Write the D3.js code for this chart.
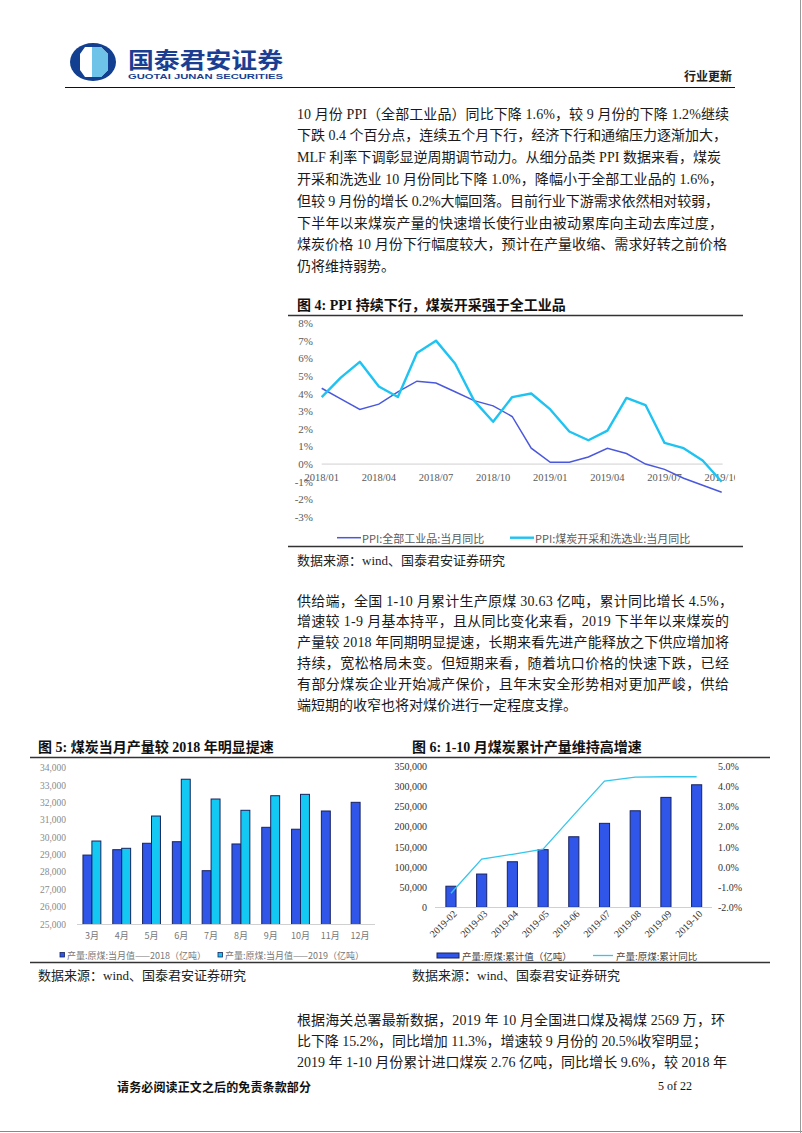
<!DOCTYPE html>
<html><head><meta charset="utf-8">
<script src="https://cdn.jsdelivr.net/npm/d3@7"></script>
<style>body{margin:0;background:#fff}svg{display:block}</style>
</head><body><svg id="c" width="802" height="1133"></svg>
<script>
// ---------- DATA ----------
const ppiMonths = ["2018/01","2018/02","2018/03","2018/04","2018/05","2018/06","2018/07","2018/08","2018/09","2018/10","2018/11","2018/12","2019/01","2019/02","2019/03","2019/04","2019/05","2019/06","2019/07","2019/08","2019/09","2019/10"];
const ppiAll  = [4.3,3.7,3.1,3.4,4.1,4.7,4.6,4.1,3.6,3.3,2.7,0.9,0.1,0.1,0.4,0.9,0.6,0.0,-0.3,-0.8,-1.2,-1.6];
const ppiCoal = [3.8,4.9,5.8,4.4,3.8,6.3,7.0,5.7,3.6,2.4,3.8,4.0,3.1,1.85,1.35,1.9,3.75,3.35,1.2,0.9,0.2,-1.0];
const ppiTickLabels = ["2018/01","2018/04","2018/07","2018/10","2019/01","2019/04","2019/07","2019/10"];
const ppiYTicks = [-3,-2,-1,0,1,2,3,4,5,6,7,8];
const ppiLegend = ["PPI:全部工业品:当月同比","PPI:煤炭开采和洗选业:当月同比"];

const prodMonths = ["3月","4月","5月","6月","7月","8月","9月","10月","11月","12月"];
const prod2018 = [29000,29310,29680,29770,28100,29640,30600,30490,31540,32040];
const prod2019 = [29810,29390,31250,33370,32230,31580,32420,32500,null,null];
const prodYTicks = [25000,26000,27000,28000,29000,30000,31000,32000,33000,34000];
const prodLegend = ["产量:原煤:当月值——2018（亿吨）","产量:原煤:当月值——2019（亿吨）"];

const cumMonths = ["2019-02","2019-03","2019-04","2019-05","2019-06","2019-07","2019-08","2019-09","2019-10"];
const cumValue = [52500,82800,113400,143500,175600,209000,240300,273600,305000];
const cumYoY = [-1.3,0.4,0.64,0.89,2.6,4.28,4.48,4.5,4.5];
const cumLeftTicks = [0,50000,100000,150000,200000,250000,300000,350000];
const cumRightTicks = [-2,-1,0,1,2,3,4,5];
const cumLegend = ["产量:原煤:累计值（亿吨）","产量:原煤:累计同比"];

const para1 = [
 "10 月份 PPI（全部工业品）同比下降 1.6%，较 9 月份的下降 1.2%继续",
 "下跌 0.4 个百分点，连续五个月下行，经济下行和通缩压力逐渐加大，",
 "MLF 利率下调彰显逆周期调节动力。从细分品类 PPI 数据来看，煤炭",
 "开采和洗选业 10 月份同比下降 1.0%，降幅小于全部工业品的 1.6%，",
 "但较 9 月份的增长 0.2%大幅回落。目前行业下游需求依然相对较弱，",
 "下半年以来煤炭产量的快速增长使行业由被动累库向主动去库过度，",
 "煤炭价格 10 月份下行幅度较大，预计在产量收缩、需求好转之前价格",
 "仍将维持弱势。"];
const para2 = [
 "供给端，全国 1-10 月累计生产原煤 30.63 亿吨，累计同比增长 4.5%，",
 "增速较 1-9 月基本持平，且从同比变化来看，2019 下半年以来煤炭的",
 "产量较 2018 年同期明显提速，长期来看先进产能释放之下供应增加将",
 "持续，宽松格局未变。但短期来看，随着坑口价格的快速下跌，已经",
 "有部分煤炭企业开始减产保价，且年末安全形势相对更加严峻，供给",
 "端短期的收窄也将对煤价进行一定程度支撑。"];
const para3 = [
 "根据海关总署最新数据，2019 年 10 月全国进口煤及褐煤 2569 万，环",
 "比下降 15.2%，同比增加 11.3%，增速较 9 月份的 20.5%收窄明显；",
 "2019 年 1-10 月份累计进口煤炭 2.76 亿吨，同比增长 9.6%，较 2018 年"];

// ---------- STYLE ----------
const SERIF = "'Liberation Serif','Noto Sans CJK SC',serif";
const CJK = "'Noto Sans CJK SC','Liberation Serif',sans-serif";
const DARK_BLUE_LINE = "#4a58dc", CYAN_LINE = "#1ec3f2";
const BAR_BLUE = "#2f56e8", BAR_CYAN = "#14c8f4", BAR_STROKE = "#18235e";

const svg = d3.select("#c");
svg.append("rect").attr("width",802).attr("height",1133).attr("fill","#fff");

// ---------- HEADER ----------
const logo = svg.append("g").attr("transform","translate(93,62)");
logo.append("ellipse").attr("rx",23).attr("ry",19).attr("fill","#123f8f");
const oct = [[-8,-15],[8,-15],[15,-8],[15,8],[8,15],[-8,15],[-13,8],[-13,-8]];
logo.append("polygon").attr("points",oct.map(p=>p.join(",")).join(" ")).attr("fill","#fff");
logo.append("polygon").attr("points","-1,-15 8,-15 15,-8 15,8 8,15 -1,15").attr("fill","#6ec3e8");
svg.append("text").attr("x",128).attr("y",57.5).attr("dominant-baseline","central")
  .attr("font-family",CJK).attr("font-weight","bold").attr("font-size",22).attr("fill","#1a3f92")
  .attr("textLength",155).attr("lengthAdjust","spacingAndGlyphs").text("国泰君安证券");
svg.append("text").attr("x",128).attr("y",76.5).attr("dominant-baseline","central")
  .attr("font-family","'Liberation Sans',sans-serif").attr("font-weight","bold").attr("font-size",8).attr("fill","#1a3f92")
  .attr("textLength",155).attr("lengthAdjust","spacingAndGlyphs").text("GUOTAI JUNAN SECURITIES");
svg.append("text").attr("x",732).attr("y",75).attr("text-anchor","end").attr("dominant-baseline","central")
  .attr("font-family",CJK).attr("font-weight","bold").attr("font-size",12).attr("fill","#222").text("行业更新");
svg.append("line").attr("x1",65).attr("x2",735).attr("y1",87.5).attr("y2",87.5).attr("stroke","#111").attr("stroke-width",1.2);

// ---------- PARAGRAPHS ----------
function para(lines, x, y0, dy, full) {
  lines.forEach((t,i)=>{
    const el = svg.append("text").attr("x",x).attr("y",y0+i*dy).attr("dominant-baseline","central")
      .attr("font-family",SERIF).attr("font-size",14).attr("fill","#1a1a1a").text(t);
    if (full[i]) el.attr("textLength",full[i]).attr("lengthAdjust","spacing");
  });
}
para(para1, 297, 114, 21.8, [432,430,424,426,422,426,430,0]);
para(para2, 297, 601, 20.8, [436,432,432,432,432,0]);
para(para3, 297, 1020, 21, [428,410,430]);

// ---------- CHART 4 ----------
function title(x,y,t){
  svg.append("text").attr("x",x).attr("y",y).attr("dominant-baseline","central")
   .attr("font-family",SERIF).attr("font-weight","bold").attr("font-size",14).attr("fill","#111").text(t);
}
function source(x,y){
  svg.append("text").attr("x",x).attr("y",y).attr("dominant-baseline","central")
   .attr("font-family",SERIF).attr("font-size",13).attr("fill","#222").text("数据来源：wind、国泰君安证券研究");
}
title(297,305,"图  4:  PPI 持续下行，煤炭开采强于全工业品");
svg.append("line").attr("x1",288).attr("x2",743).attr("y1",315.5).attr("y2",315.5).attr("stroke","#333").attr("stroke-width",1.5);
svg.append("line").attr("x1",288).attr("x2",743).attr("y1",546.5).attr("y2",546.5).attr("stroke","#333").attr("stroke-width",1.5);
source(297,560);

svg.append("clipPath").attr("id","clip4").append("rect").attr("x",280).attr("y",316).attr("width",455).attr("height",230);
const g4 = svg.append("g").attr("clip-path","url(#clip4)");
const x4 = d3.scalePoint().domain(ppiMonths).range([321.7,721.7]);
const y4 = d3.scaleLinear().domain([-3,8]).range([517,323]);
g4.append("line").attr("x1",x4(ppiMonths[0])).attr("x2",x4(ppiMonths[ppiMonths.length-1])+1)
  .attr("y1",y4(0)).attr("y2",y4(0)).attr("stroke","#d0d0d0").attr("stroke-width",1);
g4.selectAll(".yl").data(ppiYTicks).enter().append("text")
  .attr("x",313).attr("y",d=>y4(d)).attr("text-anchor","end").attr("dominant-baseline","central")
  .attr("font-family",SERIF).attr("font-size",11).attr("fill","#5a5a5a").text(d=>d+"%");
g4.selectAll(".xl").data(ppiTickLabels).enter().append("text")
  .attr("x",d=>x4(d)).attr("y",477).attr("text-anchor","middle").attr("dominant-baseline","central")
  .attr("font-family",SERIF).attr("font-size",10.5).attr("fill","#5a5a5a").text(d=>d);
const line4 = vals => d3.line().x((d,i)=>x4(ppiMonths[i])).y(d=>y4(d))(vals);
g4.append("path").attr("d",line4(ppiAll)).attr("fill","none").attr("stroke",DARK_BLUE_LINE).attr("stroke-width",1.5);
g4.append("path").attr("d",line4(ppiCoal)).attr("fill","none").attr("stroke",CYAN_LINE).attr("stroke-width",2.4).attr("stroke-linejoin","round");
// legend
[[337,DARK_BLUE_LINE,1.5,ppiLegend[0]],[510,CYAN_LINE,2.4,ppiLegend[1]]].forEach(([lx,c,w,t])=>{
  svg.append("line").attr("x1",lx).attr("x2",lx+24).attr("y1",537.7).attr("y2",537.7).attr("stroke",c).attr("stroke-width",w);
  svg.append("text").attr("x",lx+25).attr("y",538).attr("dominant-baseline","central")
   .attr("font-family",CJK).attr("font-size",11).attr("fill","#5a5a5a").text(t);
});

// ---------- CHART 5 ----------
title(38,747,"图  5:  煤炭当月产量较 2018 年明显提速");
title(412,747,"图  6:  1-10 月煤炭累计产量维持高增速");
svg.append("line").attr("x1",30).attr("x2",770).attr("y1",757.5).attr("y2",757.5).attr("stroke","#333").attr("stroke-width",1.5);
svg.append("line").attr("x1",30).attr("x2",770).attr("y1",962.5).attr("y2",962.5).attr("stroke","#333").attr("stroke-width",1.5);
source(38,975); source(412,975);

const x5 = d3.scaleBand().domain(prodMonths).range([77,375]).paddingInner(0.4).paddingOuter(0.2);
const x5i = d3.scaleBand().domain(["2018","2019"]).range([0,x5.bandwidth()]);
const y5 = d3.scaleLinear().domain([25000,34000]).range([924.5,768.3]);
svg.selectAll(".y5").data(prodYTicks).enter().append("text")
  .attr("x",66).attr("y",d=>y5(d)).attr("text-anchor","end").attr("dominant-baseline","central")
  .attr("font-family",SERIF).attr("font-size",9.5).attr("fill","#8a8a8a").text(d=>d3.format(",")(d));
prodMonths.forEach((m,i)=>{
  [["2018",prod2018[i],BAR_BLUE],["2019",prod2019[i],BAR_CYAN]].forEach(([s,v,c])=>{
    if (v==null) return;
    svg.append("rect").attr("x",x5(m)+x5i(s)).attr("width",x5i.bandwidth()).attr("y",y5(v)).attr("height",y5(25000)-y5(v))
      .attr("fill",c).attr("stroke",BAR_STROKE).attr("stroke-width",1);
  });
});
svg.append("line").attr("x1",77).attr("x2",375).attr("y1",924.5).attr("y2",924.5).attr("stroke","#d0d0d0");
svg.selectAll(".x5").data(prodMonths).enter().append("text")
  .attr("x",d=>x5(d)+x5.bandwidth()/2).attr("y",935).attr("text-anchor","middle").attr("dominant-baseline","central")
  .attr("font-family",CJK).attr("font-size",9).attr("fill","#777").text(d=>d);
[[60,BAR_BLUE,prodLegend[0]],[218,BAR_CYAN,prodLegend[1]]].forEach(([lx,c,t])=>{
  svg.append("rect").attr("x",lx).attr("y",952.5).attr("width",4.5).attr("height",4.5).attr("fill",c).attr("stroke",BAR_STROKE).attr("stroke-width",0.8);
  svg.append("text").attr("x",lx+7).attr("y",955).attr("dominant-baseline","central")
   .attr("font-family",CJK).attr("font-size",9).attr("fill","#777").text(t);
});

// ---------- CHART 6 ----------
const x6 = d3.scaleBand().domain(cumMonths).range([435.6,712]).paddingInner(0.67).paddingOuter(0.335);
const y6 = d3.scaleLinear().domain([0,350000]).range([907.3,766.7]);
const y6r = d3.scaleLinear().domain([-2,5]).range([907.3,766.7]);
svg.selectAll(".y6").data(cumLeftTicks).enter().append("text")
  .attr("x",427).attr("y",d=>y6(d)).attr("text-anchor","end").attr("dominant-baseline","central")
  .attr("font-family",SERIF).attr("font-size",10).attr("fill","#333").text(d=>d3.format(",")(d));
svg.selectAll(".y6r").data(cumRightTicks).enter().append("text")
  .attr("x",718).attr("y",d=>y6r(d)).attr("text-anchor","start").attr("dominant-baseline","central")
  .attr("font-family",SERIF).attr("font-size",10).attr("fill","#333").text(d=>d.toFixed(1)+"%");
svg.selectAll(".b6").data(cumValue).enter().append("rect")
  .attr("x",(d,i)=>x6(cumMonths[i])).attr("width",x6.bandwidth()).attr("y",d=>y6(d)).attr("height",d=>y6(0)-y6(d))
  .attr("fill",BAR_BLUE).attr("stroke",BAR_STROKE).attr("stroke-width",1);
svg.append("line").attr("x1",435).attr("x2",712).attr("y1",907.5).attr("y2",907.5).attr("stroke","#d0d0d0");
svg.append("path").attr("d",d3.line().x((d,i)=>x6(cumMonths[i])+x6.bandwidth()/2).y(d=>y6r(d))(cumYoY))
  .attr("fill","none").attr("stroke","#35c6ec").attr("stroke-width",1.3);
svg.selectAll(".x6").data(cumMonths).enter().append("text")
  .attr("transform",d=>`translate(${x6(d)+x6.bandwidth()/2+4},${912}) rotate(-45)`)
  .attr("text-anchor","end").attr("dominant-baseline","central")
  .attr("font-family",SERIF).attr("font-size",10).attr("fill","#333").text(d=>d);
svg.append("rect").attr("x",437).attr("y",953).attr("width",22).attr("height",5).attr("fill",BAR_BLUE).attr("stroke",BAR_STROKE).attr("stroke-width",1);
svg.append("text").attr("x",462).attr("y",955.5).attr("dominant-baseline","central")
  .attr("font-family",CJK).attr("font-size",9.5).attr("fill","#444").text(cumLegend[0]);
svg.append("line").attr("x1",593).attr("x2",613).attr("y1",955.5).attr("y2",955.5).attr("stroke","#35c6ec").attr("stroke-width",1.3);
svg.append("text").attr("x",616).attr("y",955.5).attr("dominant-baseline","central")
  .attr("font-family",CJK).attr("font-size",9.5).attr("fill","#444").text(cumLegend[1]);

// ---------- FOOTER ----------
svg.append("text").attr("x",117).attr("y",1086).attr("dominant-baseline","central")
  .attr("font-family",CJK).attr("font-weight","bold").attr("font-size",12).attr("fill","#111")
  .attr("textLength",194).attr("lengthAdjust","spacing").text("请务必阅读正文之后的免责条款部分");
svg.append("text").attr("x",692).attr("y",1086).attr("text-anchor","end").attr("dominant-baseline","central")
  .attr("font-family",SERIF).attr("font-size",12).attr("fill","#111").text("5 of 22");
svg.append("line").attr("x1",0).attr("x2",802).attr("y1",1131.5).attr("y2",1131.5).attr("stroke","#888").attr("stroke-width",1);
svg.append("line").attr("x1",800.5).attr("x2",800.5).attr("y1",0).attr("y2",1133).attr("stroke","#999").attr("stroke-width",1);
</script></body></html>
